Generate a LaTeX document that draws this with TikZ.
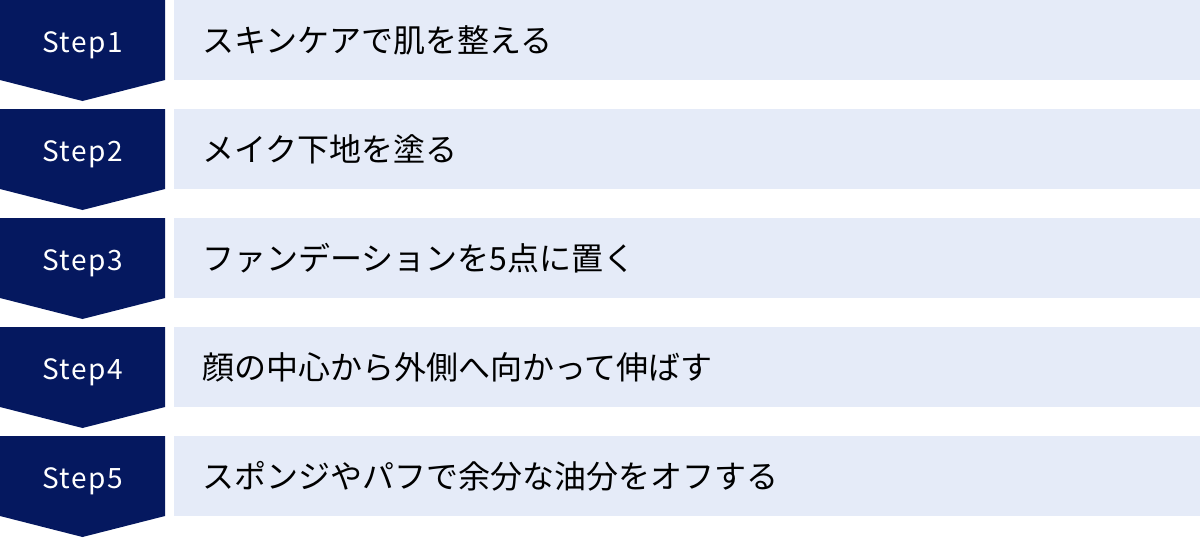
\documentclass[tikz,border=0pt]{standalone}
\usepackage{fontspec}
\setmainfont{Noto Sans CJK JP}
\newfontfamily\stepfont[LetterSpace=5]{Noto Sans CJK JP}
\definecolor{stepnavy}{HTML}{05185F}
\definecolor{rowblue}{HTML}{E5EBF8}

\begin{document}
\begin{tikzpicture}[x=1pt, y=-1pt,
  stepbox/.style={fill=stepnavy},
  steplabel/.style={text=white, anchor=base, font=\stepfont\fontsize{28}{32}\selectfont},
  rowbox/.style={rectangle, fill=rowblue, anchor=north west, minimum width=1026pt, minimum height=80pt,
    inner xsep=28pt, inner ysep=0pt, text width=970pt, align=left, font=\fontsize{32}{38}\selectfont}]
\useasboundingbox (0,0) rectangle (1200,538);

% Step 1
\fill[stepbox] (0,0) -- (165,0) -- (165,80) -- (82.5,101) -- (0,80) -- cycle;
\node[steplabel] (s1) at (82.5,52) {Step1};
\node[rowbox] (r1) at (174,0) {スキンケアで肌を整える};

% Step 2
\fill[stepbox] (0,109) -- (165,109) -- (165,189) -- (82.5,210) -- (0,189) -- cycle;
\node[steplabel] (s2) at (82.5,161) {Step2};
\node[rowbox] (r2) at (174,109) {メイク下地を塗る};

% Step 3
\fill[stepbox] (0,218) -- (165,218) -- (165,298) -- (82.5,319) -- (0,298) -- cycle;
\node[steplabel] (s3) at (82.5,270) {Step3};
\node[rowbox] (r3) at (174,218) {ファンデーションを5点に置く};

% Step 4
\fill[stepbox] (0,327) -- (165,327) -- (165,407) -- (82.5,428) -- (0,407) -- cycle;
\node[steplabel] (s4) at (82.5,379) {Step4};
\node[rowbox] (r4) at (174,327) {顔の中心から外側へ向かって伸ばす};

% Step 5
\fill[stepbox] (0,436) -- (165,436) -- (165,516) -- (82.5,537) -- (0,516) -- cycle;
\node[steplabel] (s5) at (82.5,488) {Step5};
\node[rowbox] (r5) at (174,436) {スポンジやパフで余分な油分をオフする};
\end{tikzpicture}
\end{document}
